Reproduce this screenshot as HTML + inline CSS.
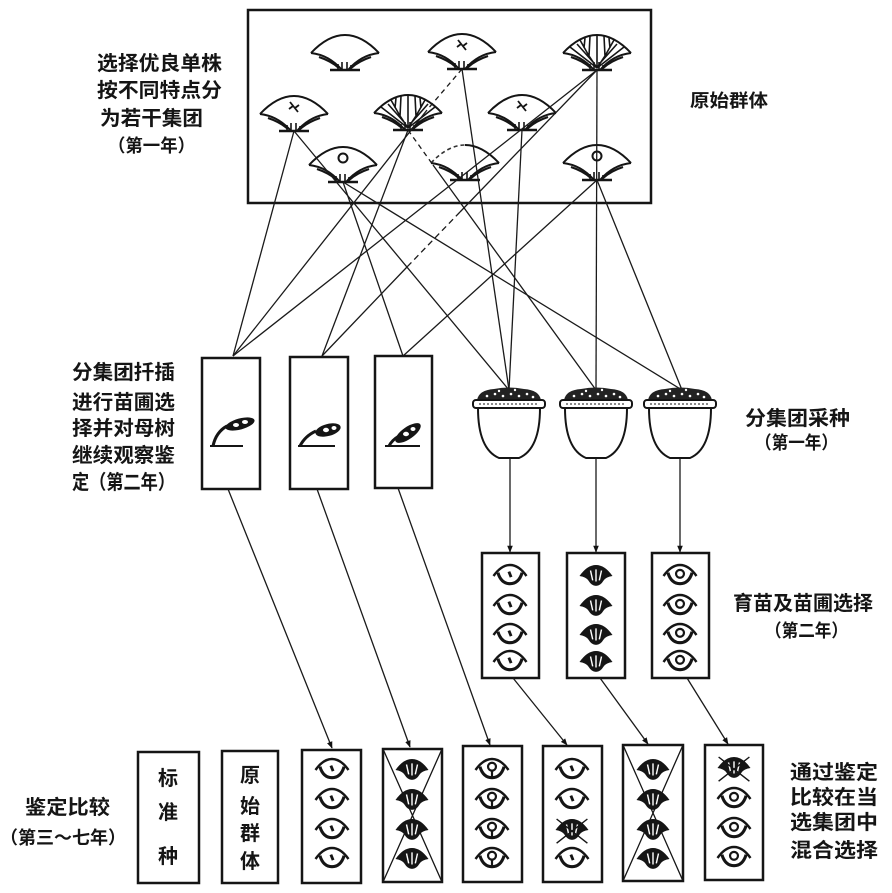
<!DOCTYPE html>
<html><head><meta charset="utf-8"><style>
html,body{margin:0;padding:0;background:#fff;}
svg{display:block;}
text{font-family:"Liberation Sans","Noto Sans CJK SC",sans-serif;font-weight:bold;fill:#151515;}
</style></head><body>
<svg width="892" height="893" viewBox="0 0 892 893" xmlns="http://www.w3.org/2000/svg">
<defs>
<marker id="ar" viewBox="0 0 10 10" refX="9" refY="5" markerWidth="7" markerHeight="7" orient="auto" markerUnits="userSpaceOnUse"><path d="M0,1 L10,5 L0,9 Z" fill="#111"/></marker>
<g id="fanbase" fill="none" stroke="#151515">
 <path d="M-34,-17 Q-16,-15 -3,0" stroke-width="2"/>
 <path d="M34,-17 Q16,-15 3,0" stroke-width="2"/>
 <path d="M-26,-13 Q-14,-9 -6,-2 M26,-13 Q14,-9 6,-2" stroke-width="2.2"/>
 <path d="M-15,0 H15" stroke-width="2.6"/>
 <path d="M-7,0 V-6 M-3,0 V-8 M2,0 V-8 M6,0 V-5" stroke-width="1.6"/>
</g>
<g id="fan"><use href="#fanbase"/><path d="M-34,-17 Q0,-53 34,-17" fill="none" stroke="#151515" stroke-width="2"/></g>
<g id="cross"><path d="M-4,-29 L4,-19 M-5,-22 L-1,-25 M1,-23 L5,-26" fill="none" stroke="#151515" stroke-width="1.8"/></g>
<g id="branch" fill="none" stroke="#151515" stroke-width="1.6">
 <path d="M0,-2 L-27,-23 M0,-2 L-8,-14 L-17,-30 M-8,-14 L-7,-34 M0,-2 L0,-35 M0,-2 L8,-14 L7,-34 M8,-14 L17,-30 M0,-2 L27,-23 M-4,-8 L-20,-26 M4,-8 L20,-26 M-13,-22 L-12,-32 M13,-22 L12,-32"/>
</g>
<g id="eyeO" fill="none" stroke="#151515">
 <path d="M-15,0 Q-8,-10 0,-10 Q8,-10 15,0" stroke-width="2.2"/>
 <path d="M-11,-3 Q-8,7 0,7 Q8,7 11,-3" stroke-width="2.8"/>
</g>
<g id="eyeDot"><use href="#eyeO"/><path d="M-1,-4 L1,1" stroke="#151515" stroke-width="2.6"/></g>
<g id="eyeCirc"><use href="#eyeO"/><circle cx="0" cy="-2" r="3.6" fill="none" stroke="#151515" stroke-width="2"/></g>
<g id="eyeKey"><use href="#eyeO"/><circle cx="0" cy="-3" r="3.6" fill="none" stroke="#151515" stroke-width="2"/><path d="M0,1 V7" stroke="#151515" stroke-width="2"/></g>
<g id="eyeDark">
 <path d="M-15,0 Q-8,-10 0,-10 Q8,-10 15,0 Q9,1 7,4 Q4,9 0,9 Q-4,9 -7,4 Q-9,1 -15,0 Z" fill="#151515"/>
 <path d="M-5,-5 L-3,4 M0,-6 L0,5 M5,-5 L3,4" stroke="#fff" stroke-width="1.3"/>
</g>
<g id="eyeX"><use href="#eyeDark"/><path d="M-14,-10 L14,12 M14,-10 L-14,12" stroke="#151515" stroke-width="1.3"/></g>
<g id="pot">
 <path d="M-31,8 C-31,35 -24,52 -10,58 L10,58 C24,52 31,35 31,8" fill="#fff" stroke="#151515" stroke-width="2"/>
 <path d="M-32,0 Q-30,-10 -15,-11 Q0,-14 15,-11 Q30,-10 32,0 Z" fill="#222"/>
 <rect x="-36" y="0" width="72" height="8" rx="3" fill="#fff" stroke="#151515" stroke-width="2"/>
 <g fill="#fff">
  <circle cx="-22" cy="-4" r="1.3"/><circle cx="-14" cy="-6" r="1.3"/><circle cx="-6" cy="-4" r="1.3"/><circle cx="2" cy="-6" r="1.3"/><circle cx="10" cy="-4" r="1.3"/><circle cx="18" cy="-6" r="1.3"/><circle cx="24" cy="-3" r="1.3"/>
  <circle cx="-10" cy="-9" r="1.2"/><circle cx="6" cy="-10" r="1.2"/>
 </g>
 <path d="M-30,4 H30" stroke="#151515" stroke-width="1" stroke-dasharray="2 2"/>
</g>
</defs>

<rect x="248" y="10" width="403" height="193" fill="none" stroke="#151515" stroke-width="2.5"/>

<use href="#fan" transform="translate(345,70)"/>
<use href="#fan" transform="translate(462,69)"/><use href="#cross" transform="translate(462,69)"/>
<use href="#fan" transform="translate(597,70)"/><use href="#branch" transform="translate(597,70)"/>
<use href="#fan" transform="translate(294,131)"/><use href="#cross" transform="translate(294,131)"/>
<use href="#fan" transform="translate(408,130)"/><use href="#branch" transform="translate(408,130)"/>
<use href="#fan" transform="translate(522,130)"/><use href="#cross" transform="translate(522,130)"/>
<use href="#fan" transform="translate(343,182)"/><circle cx="343" cy="158" r="4.5" fill="none" stroke="#151515" stroke-width="2"/>
<g transform="translate(465,180)"><use href="#fanbase"/>
 <path d="M-34,-17 Q-17,-35 0,-35" fill="none" stroke="#333" stroke-width="1.6" stroke-dasharray="4 3"/>
 <path d="M0,-35 Q17,-35 34,-17" fill="none" stroke="#151515" stroke-width="2"/>
</g>
<use href="#fan" transform="translate(597,180)"/><circle cx="597" cy="156" r="4.5" fill="none" stroke="#151515" stroke-width="2"/>

<g fill="none" stroke="#1a1a1a" stroke-width="1.3">
 <path d="M294,131 L233,356"/>
 <path d="M462,69 L427,110" stroke-dasharray="5 4"/><path d="M427,110 L233,356"/>
 <path d="M597,70 L233,356"/>
 <path d="M408,130 L322,356"/>
 <path d="M597,70 L460,212"/><path d="M460,212 L407,267" stroke-dasharray="6 4"/><path d="M407,267 L322,356"/>
 <path d="M343,182 L403,356"/>
 <path d="M597,180 L403,356"/>
 <path d="M462,69 L509,390"/>
 <path d="M522,130 L509,390"/>
 <path d="M294,131 L509,390"/>
 <path d="M408,130 L433,165" stroke-dasharray="5 4"/><path d="M433,165 L596,390"/>
 <path d="M597,70 L596,390"/>
 <path d="M343,182 L682,390"/>
 <path d="M597,180 L682,390"/>
</g>

<g fill="none" stroke="#151515" stroke-width="2.5">
 <rect x="202" y="358" width="58" height="131"/>
 <rect x="290" y="357" width="58" height="132"/>
 <rect x="375" y="356" width="57" height="132"/>
</g>
<g stroke="#151515" fill="none" stroke-width="2">
 <path d="M210,446 H243"/><path d="M213,446 Q216,432 227,426" stroke-width="3"/>
 <path d="M298,446 H335"/><path d="M300,446 Q305,436 316,431" stroke-width="3"/>
 <path d="M385,446 H420"/><path d="M389,446 Q392,440 399,436" stroke-width="3"/>
</g>
<g fill="#151515">
 <ellipse cx="240" cy="424" rx="15" ry="5.5" transform="rotate(-15 240 424)"/>
 <ellipse cx="328" cy="430" rx="13" ry="6" transform="rotate(-15 328 430)"/>
 <ellipse cx="408" cy="433" rx="15" ry="6" transform="rotate(-35 408 433)"/>
</g>
<g fill="#fff">
 <ellipse cx="236" cy="425" rx="3" ry="2"/><ellipse cx="245" cy="422" rx="3" ry="2"/>
 <ellipse cx="326" cy="430" rx="3" ry="2.2"/><ellipse cx="334" cy="428" rx="2.5" ry="2"/>
 <ellipse cx="406" cy="434" rx="3" ry="2.2"/><ellipse cx="413" cy="429" rx="2.5" ry="2"/>
</g>

<use href="#pot" transform="translate(509,400)"/>
<use href="#pot" transform="translate(596,400)"/>
<use href="#pot" transform="translate(680,400)"/>

<g stroke="#1a1a1a" stroke-width="1.3" fill="none">
 <path d="M510,458 L510,552" marker-end="url(#ar)"/>
 <path d="M596,458 L596,552" marker-end="url(#ar)"/>
 <path d="M680,458 L680,552" marker-end="url(#ar)"/>
</g>

<g fill="none" stroke="#151515" stroke-width="2.5">
 <rect x="482" y="553" width="57" height="125"/>
 <rect x="567" y="553" width="58" height="125"/>
 <rect x="652" y="553" width="57" height="125"/>
</g>
<use href="#eyeDot" transform="translate(510,576) scale(1.1)"/><use href="#eyeDot" transform="translate(510,606) scale(1.1)"/><use href="#eyeDot" transform="translate(510,635) scale(1.1)"/><use href="#eyeDot" transform="translate(510,662) scale(1.1)"/>
<use href="#eyeDark" transform="translate(596,576) scale(1.1)"/><use href="#eyeDark" transform="translate(596,606) scale(1.1)"/><use href="#eyeDark" transform="translate(596,635) scale(1.1)"/><use href="#eyeDark" transform="translate(596,662) scale(1.1)"/>
<use href="#eyeCirc" transform="translate(680,576) scale(1.1)"/><use href="#eyeCirc" transform="translate(680,606) scale(1.1)"/><use href="#eyeCirc" transform="translate(680,635) scale(1.1)"/><use href="#eyeCirc" transform="translate(680,662) scale(1.1)"/>

<g stroke="#1a1a1a" stroke-width="1.3" fill="none">
 <path d="M228,489 L332,748" marker-end="url(#ar)"/>
 <path d="M317,489 L410,747" marker-end="url(#ar)"/>
 <path d="M398,488 L490,745" marker-end="url(#ar)"/>
 <path d="M513,678 L567,745" marker-end="url(#ar)"/>
 <path d="M600,678 L648,744" marker-end="url(#ar)"/>
 <path d="M687,678 L728,744" marker-end="url(#ar)"/>
</g>

<g fill="none" stroke="#151515" stroke-width="2.5">
 <rect x="138" y="752" width="61" height="131"/>
 <rect x="222" y="751" width="56" height="132"/>
 <rect x="302" y="750" width="59" height="133"/>
 <rect x="383" y="749" width="59" height="133"/>
 <rect x="463" y="746" width="59" height="136"/>
 <rect x="543" y="746" width="59" height="136"/>
 <rect x="623" y="745" width="60" height="136"/>
 <rect x="705" y="745" width="58" height="135"/>
</g>
<g stroke="#151515" stroke-width="1.3">
 <path d="M383,749 L442,882 M442,749 L383,882"/>
 <path d="M623,745 L683,881 M683,745 L623,881"/>
</g>
<use href="#eyeDot" transform="translate(332,770) scale(1.1)"/><use href="#eyeDot" transform="translate(332,800) scale(1.1)"/><use href="#eyeDot" transform="translate(332,830) scale(1.1)"/><use href="#eyeDot" transform="translate(332,859) scale(1.1)"/>
<use href="#eyeDark" transform="translate(412,770) scale(1.1)"/><use href="#eyeDark" transform="translate(412,800) scale(1.1)"/><use href="#eyeDark" transform="translate(412,830) scale(1.1)"/><use href="#eyeDark" transform="translate(412,859) scale(1.1)"/>
<use href="#eyeKey" transform="translate(492,770) scale(1.1)"/><use href="#eyeKey" transform="translate(492,800) scale(1.1)"/><use href="#eyeKey" transform="translate(492,830) scale(1.1)"/><use href="#eyeKey" transform="translate(492,859) scale(1.1)"/>
<use href="#eyeDot" transform="translate(572,770) scale(1.1)"/><use href="#eyeDot" transform="translate(572,800) scale(1.1)"/><use href="#eyeX" transform="translate(572,830) scale(1.1)"/><use href="#eyeDot" transform="translate(572,859) scale(1.1)"/>
<use href="#eyeDark" transform="translate(653,770) scale(1.1)"/><use href="#eyeDark" transform="translate(653,800) scale(1.1)"/><use href="#eyeDark" transform="translate(653,830) scale(1.1)"/><use href="#eyeDark" transform="translate(653,859) scale(1.1)"/>
<use href="#eyeX" transform="translate(734,768) scale(1.1)"/><use href="#eyeCirc" transform="translate(734,799) scale(1.1)"/><use href="#eyeCirc" transform="translate(734,829) scale(1.1)"/><use href="#eyeCirc" transform="translate(734,858) scale(1.1)"/>

<text x="97" y="70" font-size="20" textLength="125" lengthAdjust="spacingAndGlyphs">选择优良单株</text>
<text x="97" y="97" font-size="20" textLength="125" lengthAdjust="spacingAndGlyphs">按不同特点分</text>
<text x="100" y="125" font-size="20" textLength="103" lengthAdjust="spacingAndGlyphs">为若干集团</text>
<text x="108" y="152" font-size="18" textLength="87" lengthAdjust="spacingAndGlyphs">（第一年）</text>

<text x="690" y="107" font-size="18" textLength="78" lengthAdjust="spacingAndGlyphs">原始群体</text>

<text x="72" y="379" font-size="20" textLength="103" lengthAdjust="spacingAndGlyphs">分集团扦插</text>
<text x="72" y="409" font-size="20" textLength="103" lengthAdjust="spacingAndGlyphs">进行苗圃选</text>
<text x="72" y="435" font-size="20" textLength="103" lengthAdjust="spacingAndGlyphs">择并对母树</text>
<text x="72" y="462" font-size="20" textLength="103" lengthAdjust="spacingAndGlyphs">继续观察鉴</text>
<text x="72" y="489" font-size="20" textLength="103" lengthAdjust="spacingAndGlyphs">定（第二年）</text>

<text x="745" y="425" font-size="20" textLength="105" lengthAdjust="spacingAndGlyphs">分集团采种</text>
<text x="755" y="449" font-size="18" textLength="83" lengthAdjust="spacingAndGlyphs">（第一年）</text>

<text x="733" y="610" font-size="20" textLength="140" lengthAdjust="spacingAndGlyphs">育苗及苗圃选择</text>
<text x="765" y="637" font-size="18" textLength="83" lengthAdjust="spacingAndGlyphs">（第二年）</text>

<text x="25" y="814" font-size="20" textLength="85" lengthAdjust="spacingAndGlyphs">鉴定比较</text>
<text x="0" y="844" font-size="18" textLength="126" lengthAdjust="spacingAndGlyphs">（第三～七年）</text>

<g font-size="20" text-anchor="middle">
 <text x="168" y="785">标</text>
 <text x="168" y="819">准</text>
 <text x="168" y="863">种</text>
 <text x="250" y="782">原</text>
 <text x="250" y="813">始</text>
 <text x="250" y="840">群</text>
 <text x="250" y="868">体</text>
</g>

<text x="790" y="779" font-size="20" textLength="88" lengthAdjust="spacingAndGlyphs">通过鉴定</text>
<text x="790" y="804" font-size="20" textLength="88" lengthAdjust="spacingAndGlyphs">比较在当</text>
<text x="790" y="829" font-size="20" textLength="88" lengthAdjust="spacingAndGlyphs">选集团中</text>
<text x="790" y="857" font-size="20" textLength="88" lengthAdjust="spacingAndGlyphs">混合选择</text>
</svg>
</body></html>
